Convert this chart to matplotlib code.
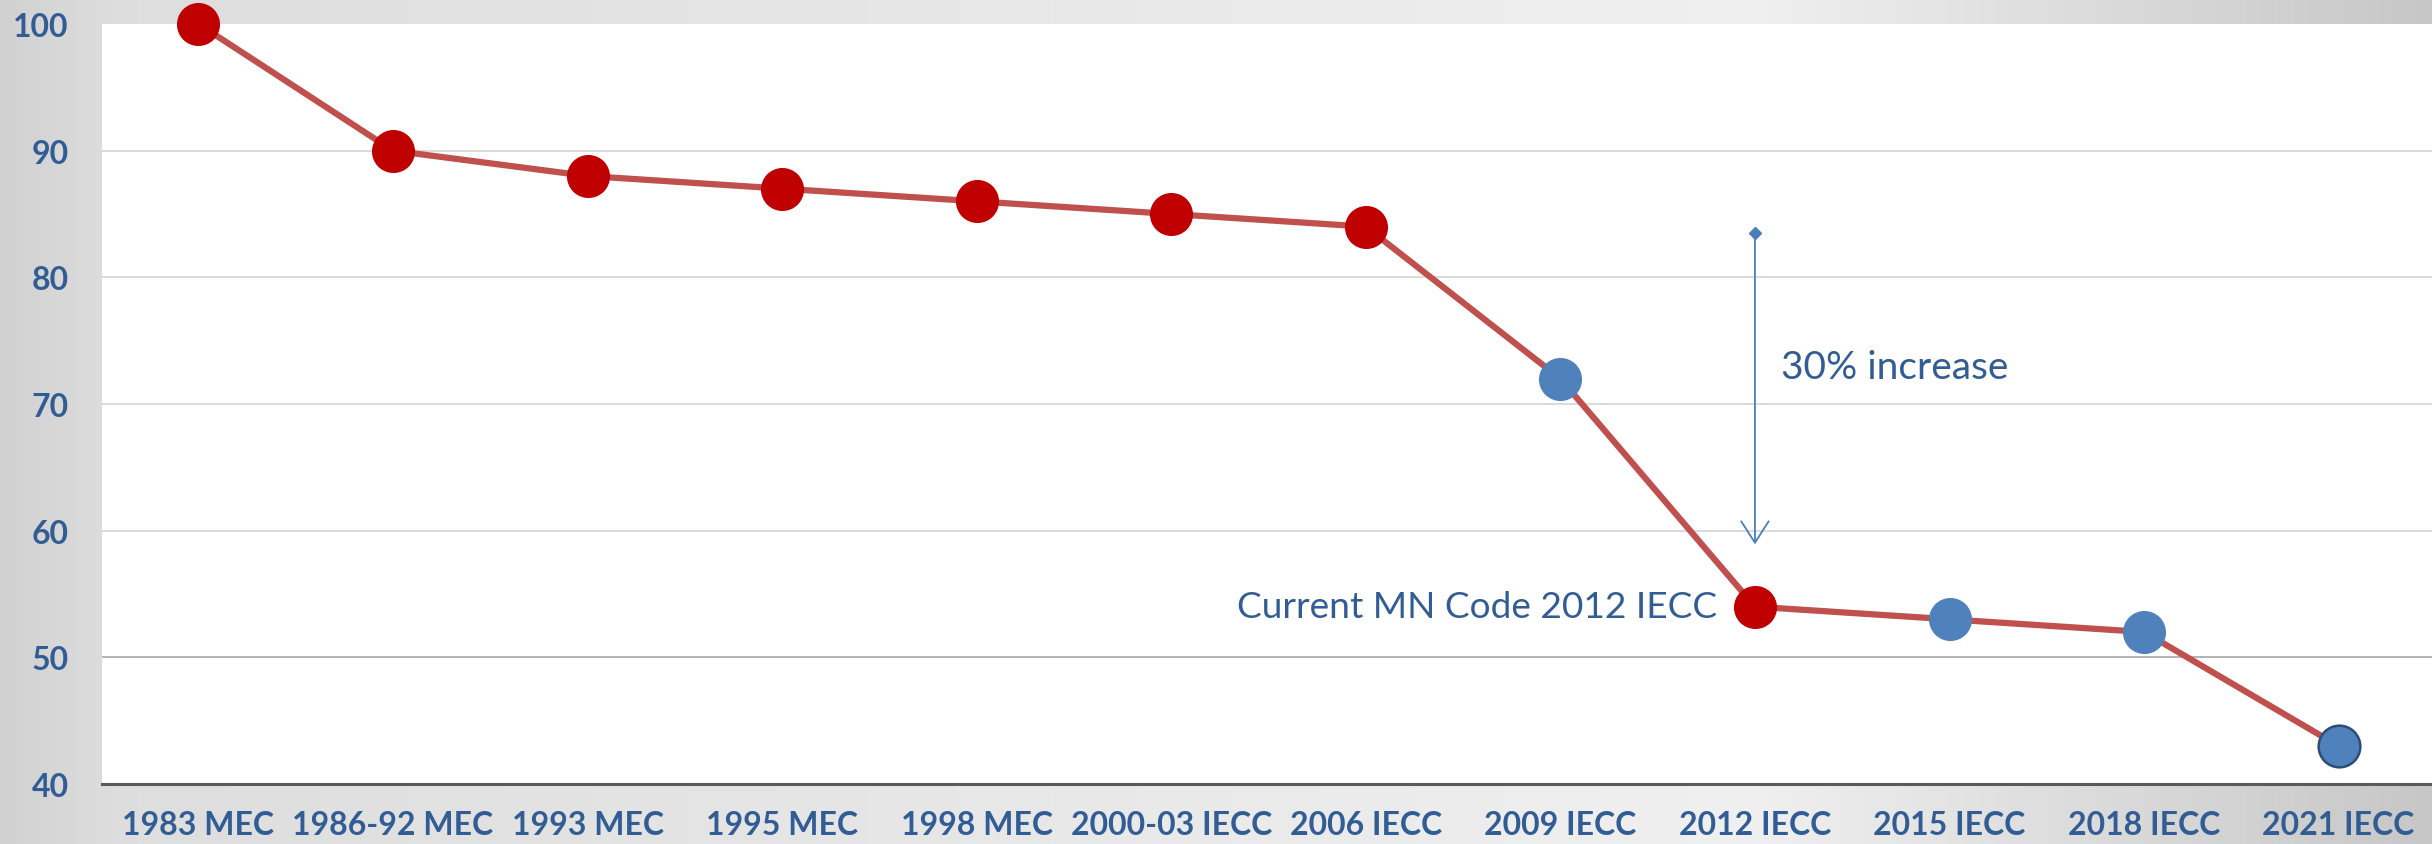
import numpy as np
import matplotlib.pyplot as plt

codes = ["1983 MEC", "1986-92 MEC", "1993 MEC", "1995 MEC", "1998 MEC", "2000-03 IECC",
         "2006 IECC", "2009 IECC", "2012 IECC", "2015 IECC", "2018 IECC", "2021 IECC"]
energy = [100, 90, 88, 87, 86, 85, 84, 72, 54, 53, 52, 43]
# True = red marker (code adopted in MN), False = blue
adopted = [True, True, True, True, True, True, True, False, True, False, False, False]
yticks = [40, 50, 60, 70, 80, 90, 100]

arrow_x, arrow_top, arrow_bottom = 8, 83.5, 58.7
current_idx = 8

label_blue = "#325d94"
red_line = "#c0504d"
red_dot = "#c00000"
blue_dot = "#4f81bd"

plt.rcParams['font.family'] = ['Lato', 'DejaVu Sans']

fig = plt.figure(figsize=(24.32, 8.45), dpi=100)

# grey gradient background behind the plot
bg = fig.add_axes([0, 0, 1, 1], zorder=-5)
gx = np.linspace(0, 1, 600)
shade = np.interp(gx, [0, 0.05, 0.72, 1.0], [0.82, 0.87, 0.94, 0.78])
grad = np.tile(shade, (50, 1))
bg.imshow(np.dstack([grad, grad, grad]), aspect='auto', extent=[0, 1, 0, 1])
bg.axis('off')

ax = fig.add_axes([102 / 2432, 1 - 785 / 845, 1 - 102 / 2432, (785 - 25) / 845])
ax.set_facecolor('white')

x = np.arange(len(codes))
ax.plot(x, energy, color=red_line, lw=4.5, zorder=3, clip_on=False)
for xi, yi, a in zip(x, energy, adopted):
    fc = red_dot if a else blue_dot
    ec = red_dot if a else blue_dot
    ew = 1
    if xi == len(codes) - 1:
        ec, ew = "#2c4d75", 1.8
    ax.plot(xi, yi, marker='o', ms=30, mfc=fc, mec=ec, mew=ew, zorder=4, clip_on=False)

ax.set_xlim(-0.496, 11.48)
ax.set_ylim(40, 99.84)
ax.set_yticks(yticks)
ax.set_xticks(x)
ax.set_xticklabels(codes)

for yt in yticks[1:-1]:
    ax.axhline(yt, color="#a6a6a6" if yt == 50 else "#d4d4d4", lw=1.2, zorder=1)

for s in ['top', 'right', 'left']:
    ax.spines[s].set_visible(False)
ax.spines['bottom'].set_color('#5a5a5a')
ax.spines['bottom'].set_linewidth(2.2)
ax.tick_params(length=0)
ax.tick_params(axis='x', pad=19, labelsize=23, labelcolor=label_blue)
ax.tick_params(axis='y', pad=24, labelsize=23, labelcolor=label_blue)
for lab in ax.get_xticklabels() + ax.get_yticklabels():
    lab.set_fontweight('bold')

# 30% increase arrow
ax.annotate('', xy=(arrow_x, arrow_bottom), xytext=(arrow_x, arrow_top),
            arrowprops=dict(arrowstyle='->,head_width=0.45,head_length=0.7',
                            color='#4a7ebb', lw=1.3, mutation_scale=22), zorder=2)
ax.plot(arrow_x, arrow_top, marker='D', ms=6, color='#4a7ebb', zorder=2)
ax.annotate('30% increase', xy=(arrow_x, 72.9), xytext=(19, 0), textcoords='offset points',
            ha='left', va='center', fontsize=28, color=label_blue)

ax.annotate('Current MN Code 2012 IECC', xy=(current_idx, energy[current_idx]),
            xytext=(-27, 0), textcoords='offset points',
            ha='right', va='center', fontsize=26.7, color=label_blue)

fig.savefig('out.png', dpi=100)
